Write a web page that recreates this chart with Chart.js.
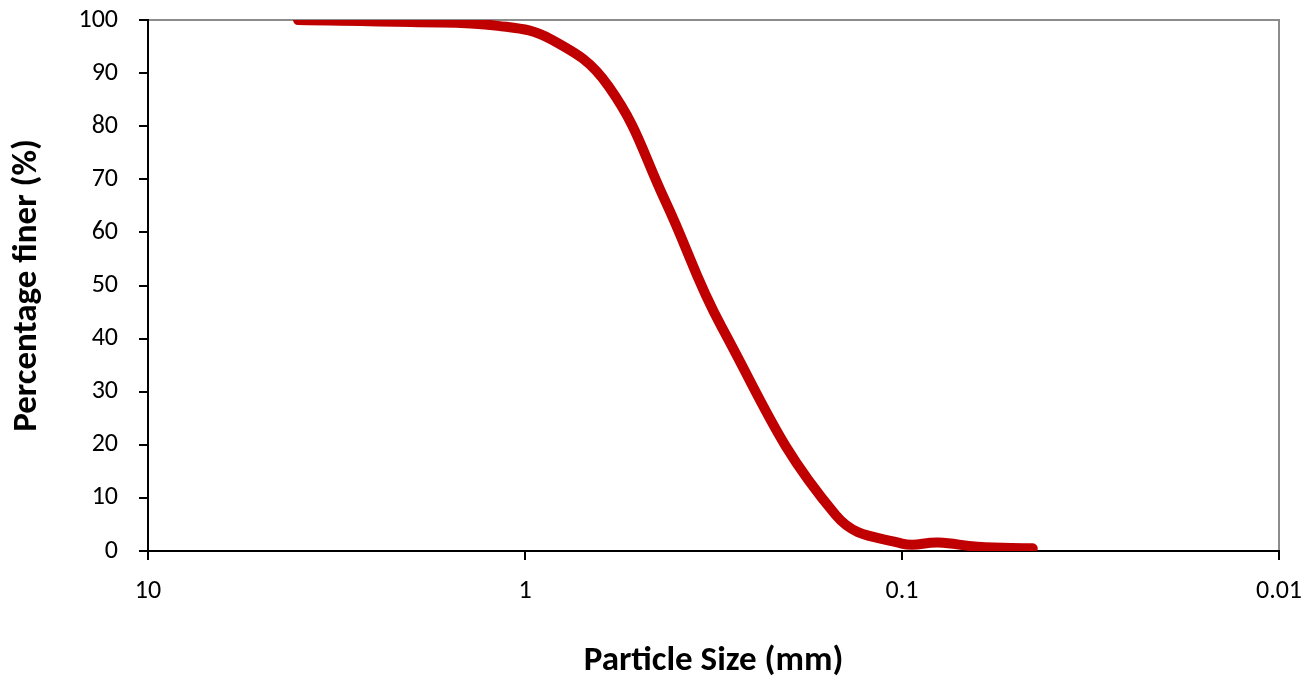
<!DOCTYPE html>
<html>
<head>
<meta charset="utf-8">
<script src="https://cdn.jsdelivr.net/npm/chart.js@4.4.1/dist/chart.umd.min.js"></script>
<style>
  html, body { margin: 0; padding: 0; background: #fff; }
  #wrap { width: 1313px; height: 686px; }
</style>
</head>
<body>
<div id="wrap"><canvas id="chart" width="1313" height="686"></canvas></div>
<script>
// sieve sizes (mm) and percentage passing
const sizes = [4, 2, 1.18, 0.85, 0.6, 0.425, 0.3, 0.15, 0.1, 0.08, 0.063, 0.045];
const finer = [100, 99.6, 98.9, 96.3, 87.5, 66, 42, 6.8, 1.4, 1.6, 0.8, 0.5];
const xTickValues = [10, 1, 0.1, 0.01];
const xTickLabels = ['10', '1', '0.1', '0.01'];

const FONT = 'Carlito, Calibri, Lato, sans-serif';

// grey frame round the plot area, drawn before the axes so left/bottom stay black
const frame = {
    id: 'frame',
    beforeDraw(chart) {
        const a = chart.chartArea, c = chart.ctx;
        c.save();
        c.strokeStyle = '#8c8c8c';
        c.lineWidth = 2;
        c.strokeRect(a.left, a.top, a.right - a.left, a.bottom - a.top);
        c.restore();
    }
};

const ctx = document.getElementById('chart').getContext('2d');
new Chart(ctx, {
    type: 'line',
    data: {
        datasets: [{
            data: sizes.map((s, i) => ({ x: s, y: finer[i] })),
            borderColor: '#C00000',
            borderWidth: 10,
            borderCapStyle: 'round',
            borderJoinStyle: 'round',
            tension: 0.42,
            pointRadius: 0,
            fill: false,
            clip: 0
        }]
    },
    options: {
        responsive: false,
        animation: false,
        devicePixelRatio: 1,
        layout: { padding: { top: 20, right: 34, left: 0, bottom: 0 } },
        plugins: { legend: { display: false }, tooltip: { enabled: false } },
        scales: {
            x: {
                type: 'logarithmic',
                reverse: true,
                min: 0.01,
                max: 10,
                afterBuildTicks: s => { s.ticks = xTickValues.map(v => ({ value: v })); },
                afterFit: s => { s.height = 686 - 551; s.paddingLeft = 0; s.paddingRight = 0; },
                ticks: {
                    autoSkip: false,
                    maxRotation: 0,
                    padding: 16,
                    color: '#000',
                    font: { family: FONT, size: 26 },
                    callback: (v) => xTickLabels[xTickValues.indexOf(v)]
                },
                grid: { drawOnChartArea: false, drawTicks: true, tickLength: 9, color: '#000', lineWidth: 2 },
                border: { display: true, color: '#000', width: 2 },
                title: {
                    display: true,
                    text: 'Particle Size (mm)',
                    color: '#000',
                    font: { family: FONT, size: 35, weight: 'bold' },
                    padding: { top: 20 }
                }
            },
            y: {
                min: 0,
                max: 100,
                afterFit: s => { s.width = 148; s.paddingTop = 0; s.paddingBottom = 0; },
                ticks: {
                    stepSize: 10,
                    padding: 21,
                    color: '#000',
                    font: { family: FONT, size: 26 }
                },
                grid: { drawOnChartArea: false, drawTicks: true, tickLength: 9, color: '#000', lineWidth: 2 },
                border: { display: true, color: '#000', width: 2 },
                title: {
                    display: true,
                    text: 'Percentage finer (%)',
                    color: '#000',
                    font: { family: FONT, size: 35, weight: 'bold' },
                    padding: { top: 6, bottom: 0 }
                }
            }
        }
    },
    plugins: [frame]
});
</script>
</body>
</html>
